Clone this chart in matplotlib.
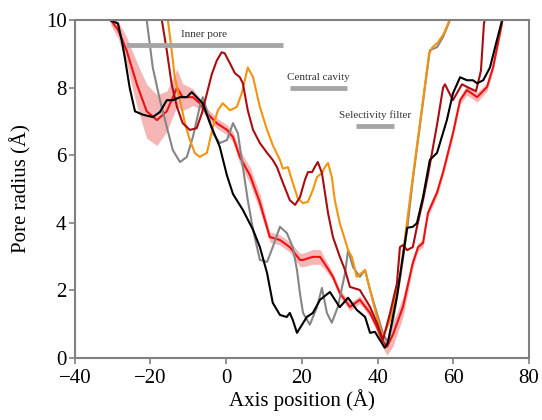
import numpy as np
import matplotlib
matplotlib.use("Agg")
import matplotlib.pyplot as plt

plt.rcParams['font.family'] = ['Liberation Serif', 'DejaVu Serif']

# pore radius profiles (axis position in A, radius in A)
black_x = [-30.7, -28.6, -27.6, -26.8, -25.5, -24.1, -22, -19.4, -17.5, -15.7, -14.1, -12.2, -10.4, -9.1, -7.8,
           -6.2, -4.3, -1.7, 0.2, 1.8, 4.4, 7.1, 8.9, 10.8, 12.3, 14.2, 16, 16.8, 17.6, 18.7, 21.3, 22.9, 24.8,
           27.4, 30, 32.2, 34.5, 36.7, 38, 39.3, 40.6, 41.9, 42.7, 45.1, 47.8, 49.3, 50.4, 52, 53.8, 55.7, 58.3,
           59.9, 61.8, 63.6, 65.2, 66.3, 67.9, 69.7, 71.5, 72.9]
black_y = [10, 9.9, 9.4, 8.9, 8.0, 7.3, 7.2, 7.13, 7.28, 7.63, 7.63, 7.72, 7.72, 7.87, 7.72,
           7.54, 6.95, 6.25, 5.4, 4.85, 4.38, 3.79, 3.28, 2.51, 1.63, 1.27, 1.21, 1.33, 1.12, 0.74, 1.21, 1.33, 1.72,
           1.95, 1.5, 1.78, 1.42, 1.21, 0.74, 0.77, 0.53, 0.3, 0.44, 1.81, 3.85, 3.88, 3.99, 4.76, 5.86, 6.07, 7.04,
           7.83, 8.31, 8.22, 8.22, 8.13, 8.22, 8.6, 9.4, 10.0]

red_x = [-30.5, -28.5, -26.3, -23.6, -21, -18.3, -15.7, -13, -11.5, -8.8, -7, -5.1, -2.5, 0.2, 1.8, 3.6, 6.3,
         8.9, 11.5, 14.2, 16.8, 19.5, 20.3, 22.9, 24.8, 26.6, 28.2, 30, 32.7, 35.3, 38, 39.8, 41.2, 42.5, 44.1,
         46.7, 49.3, 50.7, 52, 53.3, 55.7, 57.3, 59.9, 61.8, 63.6, 66.3, 68.9, 70.5, 72.3, 73]
red_y = [10, 9.7, 9.1, 8.1, 7.3, 7.04, 7.3, 8.0, 7.72, 7.72, 7.54, 7.25, 6.95, 6.75, 6.54, 5.95, 5.4,
         4.6, 3.58, 3.49, 3.28, 2.9, 2.9, 2.99, 2.99, 2.69, 2.4, 1.92, 1.51, 1.72, 1.33, 0.92, 0.53, 0.33, 0.7,
         1.51, 2.81, 3.28, 3.4, 4.29, 4.9, 5.5, 6.65, 7.63, 7.93, 7.72, 8.02, 8.6, 9.6, 10]
red_err = [0.15, 0.25, 0.4, 0.65, 0.8, 0.75, 0.6, 0.55, 0.4, 0.25, 0.15, 0.15, 0.15, 0.15, 0.15, 0.2, 0.25,
           0.25, 0.15, 0.15, 0.15, 0.2, 0.2, 0.22, 0.22, 0.15, 0.12, 0.12, 0.12, 0.12, 0.12, 0.15, 0.2, 0.25, 0.35,
           0.3, 0.15, 0.12, 0.12, 0.12, 0.12, 0.12, 0.12, 0.12, 0.15, 0.15, 0.12, 0.12, 0.12, 0.12]

gray_x = [-21, -19.4, -17.5, -15.7, -14.1, -12.2, -10.4, -8.8, -7, -6.2, -5.1, -3.5, -1.7, 0.2, 1.8, 3.1, 4.4,
          5.7, 7.1, 8.9, 10.8, 12.3, 14.2, 16, 17.6, 18.7, 19.5, 20.3, 22.1, 24, 25.3, 26.6, 27.9, 29.5, 31.4,
          32.2, 33.5, 35.3, 36.7, 38, 39.8, 41.4, 42.7, 44.1, 45.9, 47.8, 49.3, 53.8, 55.7, 57.3, 59.1]
gray_y = [10, 8.6, 7.63, 6.84, 6.15, 5.8, 5.95, 6.54, 7.43, 7.72, 7.33, 6.65, 6.36, 6.45, 6.95, 6.65, 5.65,
          4.67, 3.79, 2.9, 2.84, 3.28, 3.88, 3.7, 3.28, 2.6, 1.9, 1.33, 0.98, 1.51, 2.07, 1.33, 1.04, 1.51, 2.51,
          3.19, 2.69, 2.4, 2.6, 2.01, 1.33, 0.74, 0.44, 1.12, 2.31, 3.79, 5.27, 9.11, 9.2, 9.5, 10]

orange_x = [-15.4, -14.4, -13.6, -12.2, -10.9, -9.6, -8.3, -7, -5.1, -3.5, -2.2, -0.9, 1, 2.8, 4.1, 5.7, 7.1,
            8.9, 10.8, 12.3, 14.2, 15, 16.3, 17.6, 18.9, 20.3, 21.6, 22.9, 24, 25.3, 26.1, 26.9, 27.9, 28.7, 30,
            31.4, 32.2, 33.2, 34.5, 36.7, 38, 39.8, 41.4, 43.3, 45.9, 49.3, 53.6, 54.5, 56, 57.5, 59]
orange_y = [10, 9.1, 8.31, 7.63, 6.95, 6.45, 6.07, 5.95, 6.07, 6.84, 7.33, 7.54, 7.33, 7.43, 7.83, 8.6, 8.31,
            7.43, 6.75, 6.3, 5.86, 5.6, 5.65, 5.18, 4.73, 4.58, 4.62, 4.97, 5.36, 5.47, 5.65, 5.77, 5.36, 4.67, 3.99,
            3.49, 3.19, 2.99, 2.4, 2.6, 2.01, 1.21, 0.62, 1.12, 2.4, 5.35, 9.0, 9.2, 9.35, 9.6, 10]

darkred_x = [-17, -15.7, -14.4, -13, -11.5, -9.6, -7.8, -6.4, -5.1, -3.8, -2.5, -1.2, -0.4, 1, 2.3, 3.6, 4.4,
             5.7, 7.1, 8.9, 10.8, 12.3, 13.4, 15, 16.8, 18.2, 19.5, 20.8, 21.6, 22.7, 23.4, 24.2, 25.3, 26.1, 26.9,
             28.2, 30, 31.4, 32.7, 35.3, 38, 39.8, 41.4, 43.3, 45.1, 45.9, 46.7, 47.8, 49.3, 50.4, 52, 53.3, 55.7,
             57.3, 57.8, 59.9, 62.3, 64, 66, 67.3, 68.1, 68.3]
darkred_y = [10, 9.1, 8.1, 7.43, 6.95, 6.75, 6.8, 7.25, 7.83, 8.4, 8.8, 9.05, 9.02, 8.72, 8.43, 8.31, 8.13,
             7.33, 6.75, 6.36, 6.07, 5.86, 5.65, 5.18, 4.67, 4.53, 4.76, 5.27, 5.5, 5.5, 5.65, 5.8, 5.47, 4.88, 4.29,
             3.58, 3.0, 2.6, 2.1, 2.01, 1.51, 1.04, 0.53, 1.33, 2.2, 3.28, 3.34, 3.19, 3.28, 3.88, 4.67, 5.4, 6.9,
             8.0, 8.1, 7.63, 8.1, 8.0, 7.9, 8.5, 9.9, 10]

# region bars: label, start, end, height
regions = ["Inner pore", "Central cavity", "Selectivity filter"]
region_start = [-26.5, 16.8, 34.3]
region_end = [15.0, 31.9, 44.3]
region_y = [9.26, 7.99, 6.86]

fig = plt.figure(figsize=(5.42, 4.20), dpi=100)
ax = fig.add_axes([0.138, 0.148, 0.838, 0.804])

ry = np.array(red_y)
re = np.array(red_err)
ax.fill_between(red_x, ry - re, ry + re, color='#f27a7a', alpha=0.55, linewidth=0)
ax.plot(red_x, red_y, color='#ee1111', lw=1.5)
ax.plot(gray_x, gray_y, color='#858585', lw=1.5)
ax.plot(orange_x, orange_y, color='#f5930f', lw=1.5)
ax.plot(darkred_x, darkred_y, color='#a80d12', lw=1.5)
ax.plot(black_x, black_y, color='black', lw=1.5)

for lab, x0, x1, y in zip(regions, region_start, region_end, region_y):
    ax.plot([x0, x1], [y, y], color='#a6a6a6', lw=3.5, solid_capstyle='butt')
    ax.text((x0 + x1) / 2, y + 0.18, lab, ha='center', va='bottom', fontsize=8, color='#333333')

ax.set_xlim(-40, 80)
ax.set_ylim(0, 10)
ax.set_xticks([-40, -20, 0, 20, 40, 60, 80])
ax.set_yticks([0, 2, 4, 6, 8, 10])
ax.tick_params(direction='out', length=4, width=1.2, color='#808080', labelsize=15)
ax.tick_params(axis='x', pad=4)
ax.tick_params(axis='y', pad=2)
for s in ax.spines.values():
    s.set_color('#808080')
    s.set_linewidth(1.5)
ax.set_xlabel("Axis position (Å)", fontsize=15, labelpad=1)
ax.set_ylabel("Pore radius (Å)", fontsize=15, labelpad=10)

fig.savefig("out.png", dpi=100)
